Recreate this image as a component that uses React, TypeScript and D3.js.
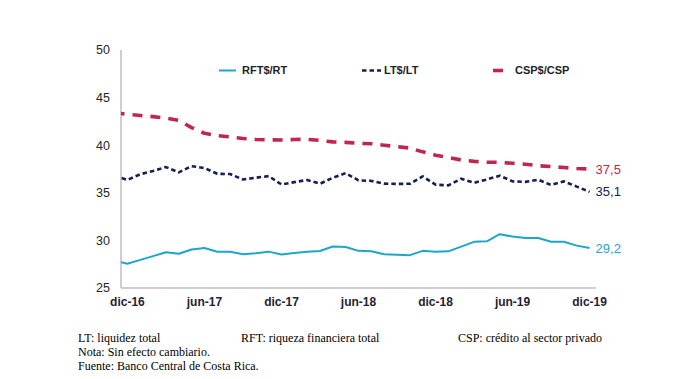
import React from "react";
import * as d3 from "d3";

// Months: nov-16 (partially visible, clipped at the axis) through dic-19
const months: string[] = [
  "nov-16", "dic-16",
  "ene-17", "feb-17", "mar-17", "abr-17", "may-17", "jun-17", "jul-17", "ago-17", "sep-17", "oct-17", "nov-17", "dic-17",
  "ene-18", "feb-18", "mar-18", "abr-18", "may-18", "jun-18", "jul-18", "ago-18", "sep-18", "oct-18", "nov-18", "dic-18",
  "ene-19", "feb-19", "mar-19", "abr-19", "may-19", "jun-19", "jul-19", "ago-19", "sep-19", "oct-19", "nov-19", "dic-19",
];

const rftValues: number[] = [
  27.85, 27.55,
  27.95, 28.35, 28.75, 28.6, 29.05, 29.2, 28.8, 28.8, 28.55, 28.65, 28.82, 28.52,
  28.68, 28.8, 28.88, 29.36, 29.3, 28.9, 28.85, 28.55, 28.5, 28.45, 28.9, 28.8,
  28.85, 29.35, 29.85, 29.9, 30.65, 30.4, 30.25, 30.25, 29.85, 29.85, 29.45, 29.2,
];

const ltValues: number[] = [
  36.8, 36.35,
  36.95, 37.3, 37.7, 37.15, 37.8, 37.6, 37.0, 36.97, 36.4, 36.58, 36.75, 35.88,
  36.12, 36.35, 35.95, 36.58, 37.07, 36.3, 36.25, 35.96, 35.93, 35.95, 36.73, 35.85,
  35.78, 36.48, 36.05, 36.4, 36.8, 36.2, 36.15, 36.38, 35.82, 36.2, 35.65, 35.1,
];

const cspValues: number[] = [
  43.4, 43.25,
  43.12, 43.0, 42.85, 42.6, 41.85, 41.25, 41.0, 40.88, 40.7, 40.6, 40.56, 40.55,
  40.6, 40.62, 40.5, 40.35, 40.3, 40.2, 40.15, 40.0, 39.85, 39.7, 39.3, 38.95,
  38.7, 38.45, 38.3, 38.22, 38.2, 38.1, 38.0, 37.85, 37.75, 37.65, 37.55, 37.5,
];

const xTickLabels: string[] = ["dic-16", "jun-17", "dic-17", "jun-18", "dic-18", "jun-19", "dic-19"];
const yTicks: number[] = [25, 30, 35, 40, 45, 50];

const endLabels: string[] = ["29,2", "35,1", "37,5"];
const legendLabels: string[] = ["RFT$/RT", "LT$/LT", "CSP$/CSP"];
const notesRow1: string[] = ["LT: liquidez total", "RFT: riqueza financiera total", "CSP: crédito al sector privado"];
const notesRows: string[] = ["Nota: Sin efecto cambiario.", "Fuente: Banco Central de Costa Rica."];

const COLORS = { rft: "#1ea6c9", lt: "#17214f", csp: "#c1274b" };

export default function App() {
  const W = 683;
  const H = 379;
  const left = 121;
  const right = 596;
  const top = 50;
  const bottom = 288;

  // index 1 (dic-16) sits half a category from the axis; index 0 lies left of it and is clipped
  const x = d3.scaleLinear().domain([0.5, months.length - 0.5]).range([left, right]);
  const y = d3.scaleLinear().domain([25, 50]).range([bottom, top]);

  const line = d3
    .line<number>()
    .x((_, i) => x(i))
    .y((d) => y(d));

  const series = [
    { key: "rft", values: rftValues, color: COLORS.rft, width: 2, dash: undefined as string | undefined },
    { key: "lt", values: ltValues, color: COLORS.lt, width: 2.6, dash: "4.5 3" },
    { key: "csp", values: cspValues, color: COLORS.csp, width: 3.6, dash: "10 8" },
  ];

  const font = "'Liberation Sans', Arial, sans-serif";
  const serif = "'Liberation Serif', 'Times New Roman', serif";
  const last = months.length - 1;

  const legend = [
    { x1: 219, x2: 236, tx: 242, color: COLORS.rft, width: 2, dash: undefined as string | undefined },
    { x1: 362, x2: 381, tx: 384, color: COLORS.lt, width: 2.6, dash: "4.5 3" },
    { x1: 493, x2: 503, tx: 515, color: COLORS.csp, width: 3.6, dash: undefined },
  ];

  return (
    <svg
      width={W}
      height={H}
      style={{ position: "absolute", left: 0, top: 0, background: "#fff" }}
    >
      <defs>
        <clipPath id="plotClip">
          <rect x={left} y={top - 10} width={right - left + 10} height={bottom - top + 20} />
        </clipPath>
      </defs>

      {/* axes */}
      <line x1={left} x2={left} y1={top} y2={bottom} stroke="#bfbfbf" strokeWidth={1.5} />
      <line x1={left} x2={right} y1={bottom} y2={bottom} stroke="#bfbfbf" strokeWidth={1.5} />

      {yTicks.map((t) => (
        <text
          key={t}
          x={110}
          y={y(t)}
          dy="0.35em"
          textAnchor="end"
          fontFamily={font}
          fontSize={12.5}
          fill="#262626"
        >
          {t}
        </text>
      ))}

      {xTickLabels.map((lab) => {
        const idx = months.indexOf(lab);
        return (
          <text
            key={lab}
            x={x(idx)}
            y={306}
            textAnchor="middle"
            fontFamily={font}
            fontSize={12}
            fontWeight="bold"
            fill="#1f2233"
          >
            {lab}
          </text>
        );
      })}

      <g clipPath="url(#plotClip)">
        {series.map((s) => (
          <path
            key={s.key}
            d={line(s.values) || ""}
            fill="none"
            stroke={s.color}
            strokeWidth={s.width}
            strokeDasharray={s.dash}
            strokeLinejoin="round"
          />
        ))}
      </g>

      {/* end labels */}
      {[rftValues, ltValues, cspValues].map((vals, i) => (
        <text
          key={endLabels[i]}
          x={x(last) + 6}
          y={y(vals[last])}
          dy="0.35em"
          fontFamily={font}
          fontSize={13}
          fill={[COLORS.rft, COLORS.lt, COLORS.csp][i]}
        >
          {endLabels[i]}
        </text>
      ))}

      {/* legend */}
      {legend.map((l, i) => (
        <g key={legendLabels[i]}>
          <line
            x1={l.x1}
            x2={l.x2}
            y1={70.5}
            y2={70.5}
            stroke={l.color}
            strokeWidth={l.width}
            strokeDasharray={l.dash}
          />
          <text
            x={l.tx}
            y={70.5}
            dy="0.35em"
            fontFamily={font}
            fontSize={11}
            fontWeight="bold"
            fill="#1f1f2a"
          >
            {legendLabels[i]}
          </text>
        </g>
      ))}

      {/* footnotes */}
      {notesRow1.map((n, i) => (
        <text key={n} x={[78, 241, 458][i]} y={342} fontFamily={serif} fontSize={12} fill="#000">
          {n}
        </text>
      ))}
      {notesRows.map((n, i) => (
        <text key={n} x={78} y={356 + i * 14} fontFamily={serif} fontSize={12} fill="#000">
          {n}
        </text>
      ))}
    </svg>
  );
}
